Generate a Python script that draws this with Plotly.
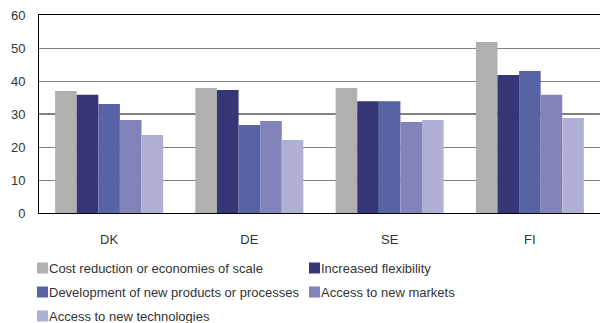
import plotly.graph_objects as go

countries = ["DK", "DE", "SE", "FI"]
series_names = [
    "Cost reduction or economies of scale",
    "Increased flexibility",
    "Development of new products or processes",
    "Access to new markets",
    "Access to new technologies",
]
cost_reduction = [37.0, 37.9, 37.9, 51.8]
flexibility = [35.8, 37.3, 33.9, 41.8]
new_products = [33.0, 26.7, 33.9, 43.0]
new_markets = [28.2, 27.9, 27.6, 35.8]
new_technologies = [23.6, 22.1, 28.2, 28.8]
y_ticks = [0, 10, 20, 30, 40, 50, 60]

colors = ["#b0b0b0", "#363676", "#5863a4", "#8383bb", "#b0b0d6"]
values = [cost_reduction, flexibility, new_products, new_markets, new_technologies]

W, H = 600, 323
M_L, M_R, M_T, M_B = 39, 0, 15, 110
plot_w = W - M_L - M_R
plot_h = H - M_T - M_B
font = "Liberation Sans"
text_color = "#333333"


def px_x(px):
    return (px - M_L) / plot_w


def px_y(py):
    return (H - M_B - py) / plot_h


fig = go.Figure()
for name, vals, col in zip(series_names, values, colors):
    fig.add_trace(go.Bar(x=countries, y=vals, name=name, showlegend=False,
                         marker=dict(color=col, line=dict(width=0))))

# Emphasised reference line at 30
fig.add_shape(type="line", xref="paper", x0=0, x1=1, yref="y", y0=30, y1=30,
              line=dict(color="black", width=1), layer="below")

# Two-column legend below the chart
legend_cols = [37, 309]
legend_rows = [268, 292, 316]
swatch = 11
for i, (name, col) in enumerate(zip(series_names, colors)):
    cx = legend_cols[i % 2]
    cy = legend_rows[i // 2]
    fig.add_shape(type="rect", xref="paper", yref="paper",
                  x0=px_x(cx), x1=px_x(cx + swatch),
                  y0=px_y(cy + swatch / 2), y1=px_y(cy - swatch / 2),
                  fillcolor=col, line=dict(width=0))
    fig.add_annotation(xref="paper", yref="paper", x=px_x(cx + swatch - 1), y=px_y(cy),
                       xanchor="left", yanchor="middle", showarrow=False,
                       text=name, font=dict(family=font, size=13, color=text_color))

fig.update_layout(
    width=W, height=H,
    margin=dict(l=M_L, r=M_R, t=M_T, b=M_B),
    plot_bgcolor="white", paper_bgcolor="white",
    barmode="group", bargap=0.23, bargroupgap=0,
    font=dict(family=font, size=13, color=text_color),
)
fig.update_xaxes(showline=True, linecolor="black", linewidth=1, mirror=True,
                 showgrid=False, ticks="", ticklabelstandoff=14,
                 tickfont=dict(family=font, size=13, color=text_color))
fig.update_yaxes(range=[0, 60], tickvals=y_ticks, showline=True, linecolor="black", linewidth=1,
                 showgrid=True, gridcolor="#808080", gridwidth=1, zeroline=False,
                 ticks="", ticklabelstandoff=10,
                 tickfont=dict(family=font, size=13, color=text_color))

fig.write_html("out.html")
